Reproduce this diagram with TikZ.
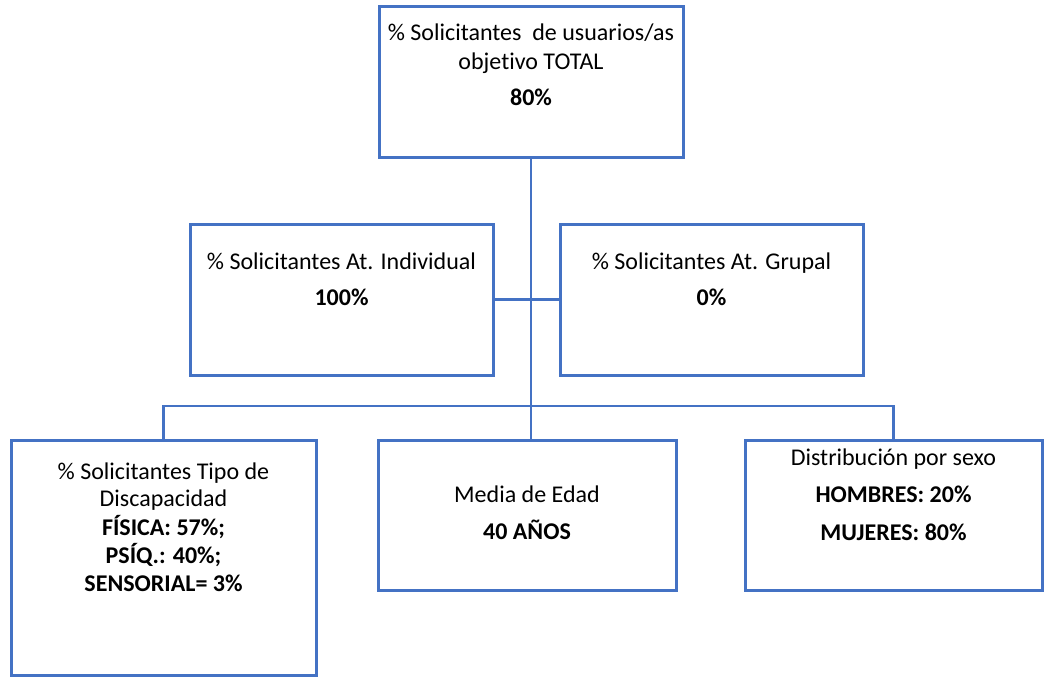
\documentclass[tikz,border=0pt]{standalone}
\usepackage{fontspec}
\setmainfont[Ligatures=NoCommon]{Carlito}
\usepackage{tikz}
\definecolor{boxblue}{RGB}{68,114,196}

\begin{document}
\begin{tikzpicture}[x=1pt, y=-1pt,
  box/.style={draw=boxblue, line width=3pt, inner sep=0pt},
  lbl/.style={anchor=north, align=center, inner sep=0pt, font=\fontsize{24}{29}\selectfont},
  conn/.style={draw=boxblue, line width=2.2pt}]
\useasboundingbox (0,0) rectangle (1046,677);
% boxes
\node[box, minimum width=304pt, minimum height=150pt] (top) at (531,82) {};
\node[box, minimum width=303pt, minimum height=151pt] (ind) at (341.5,299.5) {};
\node[box, minimum width=303pt, minimum height=151pt] (grp) at (711.5,299.5) {};
\node[box, minimum width=305pt, minimum height=235pt] (dis) at (163.5,557.5) {};
\node[box, minimum width=298pt, minimum height=150pt] (edad) at (527,515) {};
\node[box, minimum width=297pt, minimum height=150pt] (sexo) at (893.5,515) {};
% texts
\node[lbl] (toptxt) at (531,24) {\% Solicitantes~ de usuarios/as\\objetivo TOTAL\\[7pt]\textbf{80\%}};
\node[lbl] (indtxt) at (341.5,253) {\% Solicitantes At. Individual\\[7pt]\textbf{100\%}};
\node[lbl] (grptxt) at (711.5,253) {\% Solicitantes At. Grupal\\[7pt]\textbf{0\%}};
\node[lbl, font=\fontsize{24}{27}\selectfont] (distxt) at (163.5,463)
  {\% Solicitantes Tipo de\\Discapacidad\\[2pt]\textbf{FÍSICA: 57\%;}\\[1pt]\textbf{PSÍQ.: 40\%;}\\[1pt]\textbf{SENSORIAL= 3\%}};
\node[lbl] (edadtxt) at (527,486) {Media de Edad\\[8pt]\textbf{40 AÑOS}};
\node[lbl] (sexotxt) at (893.5,449) {Distribución por sexo\\[8pt]\textbf{HOMBRES: 20\%}\\[9pt]\textbf{MUJERES: 80\%}};
% connectors
\coordinate (bus) at (530,406);
\draw[conn] (top.south) -- (top.south |- edad.north);
\draw[conn] (ind.east) -- (grp.west);
\draw[conn] (dis.north) |- (bus) -| (sexo.north);
\end{tikzpicture}
\end{document}
